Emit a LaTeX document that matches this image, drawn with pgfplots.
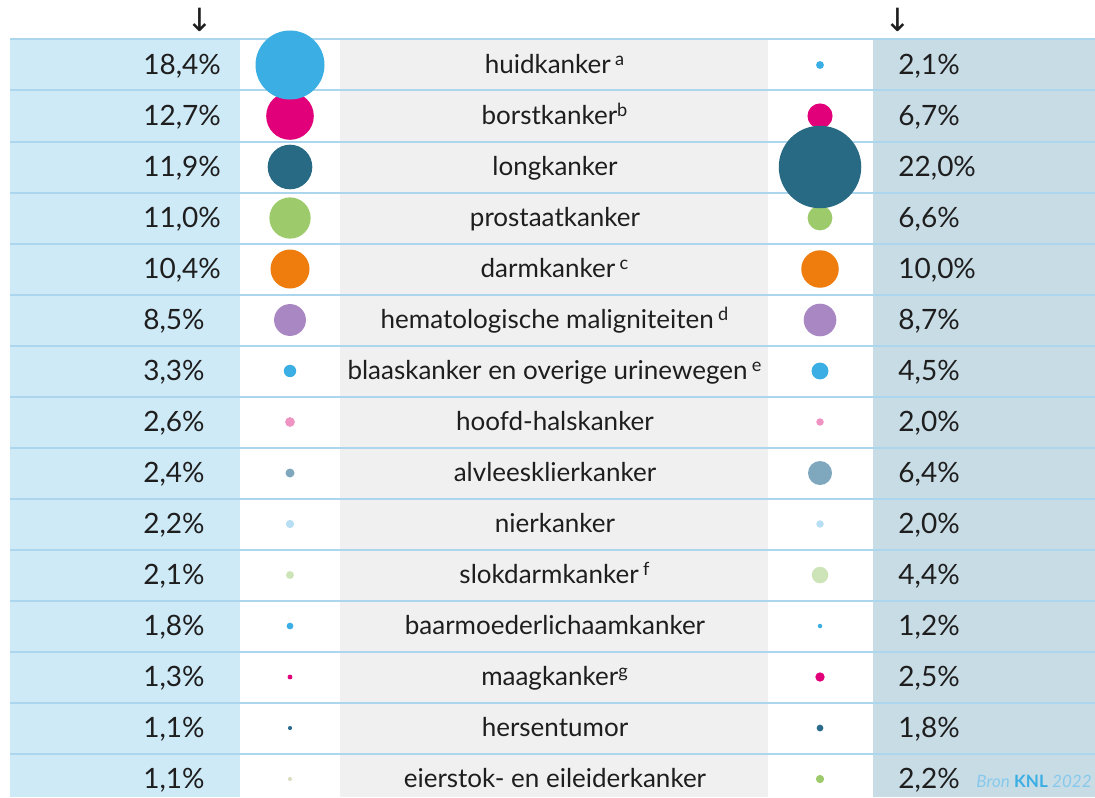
\documentclass[border=0pt]{standalone}
\usepackage{pgfplots}
\usepackage{pgfplotstable}
\pgfplotsset{compat=1.18}
\usepackage{fontspec}
\setmainfont{Lato}
\newfontfamily\symfont{DejaVu Sans}

\definecolor{leftbg}{HTML}{CFEAF7}
\definecolor{rightbg}{HTML}{C8DCE6}
\definecolor{midbg}{HTML}{F0F0F0}
\definecolor{sep}{HTML}{ACD6EE}
\definecolor{cblue}{HTML}{3BAFE4}
\definecolor{cmag}{HTML}{E2007A}
\definecolor{cteal}{HTML}{286A84}
\definecolor{cgreen}{HTML}{9DCB6C}
\definecolor{corange}{HTML}{EE7D0E}
\definecolor{cpurple}{HTML}{A987C3}
\definecolor{cpink}{HTML}{EE93C2}
\definecolor{cgrayblue}{HTML}{7FA8BF}
\definecolor{cpaleblue}{HTML}{B8DEF3}
\definecolor{cpalegreen}{HTML}{CDE4B8}
\definecolor{cbeige}{HTML}{DCDCC0}
\definecolor{cdteal}{HTML}{2A6A8C}
\definecolor{textc}{HTML}{1E1E1E}
\definecolor{bron}{HTML}{86C9EC}

% left (incidence) bubbles, sorted ascending so large ones are on top
\pgfplotstableread{
row val cl
15 1.1 beige
14 1.1 dteal
13 1.3 mag
12 1.8 blue
11 2.1 palegreen
10 2.2 paleblue
9 2.4 grayblue
8 2.6 pink
7 3.3 blue
6 8.5 purple
5 10.4 orange
4 11.0 green
3 11.9 teal
2 12.7 mag
1 18.4 blue
}\lefttab

% right (mortality) bubbles, sorted ascending
\pgfplotstableread{
row val cl
12 1.2 blue
14 1.8 dteal
8 2.0 pink
10 2.0 paleblue
1 2.1 blue
15 2.2 green
13 2.5 mag
11 4.4 palegreen
7 4.5 blue
9 6.4 grayblue
4 6.6 green
2 6.7 mag
6 8.7 purple
5 10.0 orange
3 22.0 teal
}\righttab

\pgfplotsset{
  bubble/.style={
    scatter, only marks, mark=*, point meta=explicit symbolic,
    mark options={draw opacity=0},
    scatter/classes={
      blue={draw opacity=0,fill=cblue},
      mag={draw opacity=0,fill=cmag},
      teal={draw opacity=0,fill=cteal},
      green={draw opacity=0,fill=cgreen},
      orange={draw opacity=0,fill=corange},
      purple={draw opacity=0,fill=cpurple},
      pink={draw opacity=0,fill=cpink},
      grayblue={draw opacity=0,fill=cgrayblue},
      paleblue={draw opacity=0,fill=cpaleblue},
      palegreen={draw opacity=0,fill=cpalegreen},
      beige={draw opacity=0,fill=cbeige},
      dteal={draw opacity=0,fill=cdteal}},
    visualization depends on={0.9375*\thisrow{val} \as \msize},
    scatter/@pre marker code/.append style={/tikz/mark size=\msize pt, /tikz/draw opacity=0},
  },
}
\tikzset{
  pct/.style={font=\fontsize{14}{16}\selectfont, text=textc, anchor=west,
    text height=1.6ex, text depth=0.3ex, inner sep=0pt},
  nm/.style={font=\fontsize{13}{15}\selectfont, text=textc, anchor=center,
    text height=1.6ex, text depth=0.45ex, inner sep=0pt},
}

\begin{document}
\begin{tikzpicture}
\begin{axis}[
  width=547.5pt, height=398.5pt, scale only axis,
  xmin=0, xmax=1095, ymin=0, ymax=797, y dir=reverse,
  hide axis, clip=true,
]
% backgrounds
\fill[white] (axis cs:0,0) rectangle (axis cs:1095,797);
\fill[leftbg] (axis cs:10,40) rectangle (axis cs:240,797);
\fill[midbg] (axis cs:340,40) rectangle (axis cs:768,797);
\fill[rightbg] (axis cs:873,40) rectangle (axis cs:1095,797);
% separators
\pgfplotsinvokeforeach{0,...,14}{
  \draw[sep, line width=1pt] (axis cs:10,{39.5+51*#1}) -- (axis cs:1095,{39.5+51*#1});
}
% bubbles
\addplot[bubble] table[x expr=290, y expr={65+51*(\thisrow{row}-1)}, meta=cl] {\lefttab};
\addplot[bubble] table[x expr=820, y expr={65+51*(\thisrow{row}-1)}, meta=cl] {\righttab};

% arrows
\node[font=\symfont\fontsize{16}{18}\selectfont, text=textc] at (axis cs:200,20) {↓};
\node[font=\symfont\fontsize{16}{18}\selectfont, text=textc] at (axis cs:898,20) {↓};

% left percentages
\node[pct] at (axis cs:143,68) {18,4\%};
\node[pct] at (axis cs:143,119) {12,7\%};
\node[pct] at (axis cs:143,170) {11,9\%};
\node[pct] at (axis cs:143,221) {11,0\%};
\node[pct] at (axis cs:143,272) {10,4\%};
\node[pct] at (axis cs:143,323) {8,5\%};
\node[pct] at (axis cs:143,374) {3,3\%};
\node[pct] at (axis cs:143,425) {2,6\%};
\node[pct] at (axis cs:143,476) {2,4\%};
\node[pct] at (axis cs:143,527) {2,2\%};
\node[pct] at (axis cs:143,578) {2,1\%};
\node[pct] at (axis cs:143,629) {1,8\%};
\node[pct] at (axis cs:143,680) {1,3\%};
\node[pct] at (axis cs:143,731) {1,1\%};
\node[pct] at (axis cs:143,782) {1,1\%};

% right percentages
\node[pct] at (axis cs:898,68) {2,1\%};
\node[pct] at (axis cs:898,119) {6,7\%};
\node[pct] at (axis cs:898,170) {22,0\%};
\node[pct] at (axis cs:898,221) {6,6\%};
\node[pct] at (axis cs:898,272) {10,0\%};
\node[pct] at (axis cs:898,323) {8,7\%};
\node[pct] at (axis cs:898,374) {4,5\%};
\node[pct] at (axis cs:898,425) {2,0\%};
\node[pct] at (axis cs:898,476) {6,4\%};
\node[pct] at (axis cs:898,527) {2,0\%};
\node[pct] at (axis cs:898,578) {4,4\%};
\node[pct] at (axis cs:898,629) {1,2\%};
\node[pct] at (axis cs:898,680) {2,5\%};
\node[pct] at (axis cs:898,731) {1,8\%};
\node[pct] at (axis cs:898,782) {2,2\%};

% names
\node[nm] at (axis cs:555,68) {huidkanker\,\textsuperscript{a}};
\node[nm] at (axis cs:555,119) {borstkanker\textsuperscript{b}};
\node[nm] at (axis cs:555,170) {longkanker};
\node[nm] at (axis cs:555,221) {prostaatkanker};
\node[nm] at (axis cs:555,272) {darmkanker\,\textsuperscript{c}};
\node[nm] at (axis cs:555,323) {hematologische maligniteiten\,\textsuperscript{d}};
\node[nm] at (axis cs:555,374) {blaaskanker en overige urinewegen\,\textsuperscript{e}};
\node[nm] at (axis cs:555,425) {hoofd-halskanker};
\node[nm] at (axis cs:555,476) {alvleesklierkanker};
\node[nm] at (axis cs:555,527) {nierkanker};
\node[nm] at (axis cs:555,578) {slokdarmkanker\,\textsuperscript{f}};
\node[nm] at (axis cs:555,629) {baarmoederlichaamkanker};
\node[nm] at (axis cs:555,680) {maagkanker\textsuperscript{g}};
\node[nm] at (axis cs:555,731) {hersentumor};
\node[nm] at (axis cs:555,782) {eierstok- en eileiderkanker};

% source
\node[anchor=east, inner sep=0pt, font=\fontsize{8.5}{10}\selectfont, text=bron] at (axis cs:1092,781)
  {\textit{Bron} \textcolor{cblue}{\textbf{KNL}} \textit{2022}};
\end{axis}
\pgfresetboundingbox
\path[use as bounding box] (current axis.south west) rectangle (current axis.north east);
\end{tikzpicture}
\end{document}
